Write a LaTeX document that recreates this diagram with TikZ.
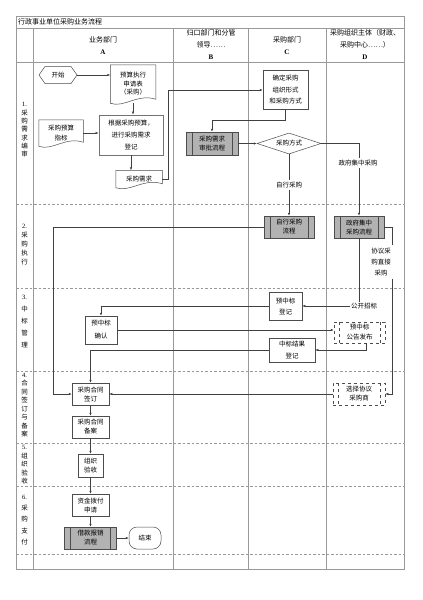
\documentclass[tikz,border=0pt]{standalone}
\usepackage{fontspec}
\setmainfont{Noto Sans CJK SC}
\newfontfamily\serifnum{Liberation Serif}
\usetikzlibrary{arrows.meta, positioning, calc, shapes.geometric, shapes.symbols}

\tikzset{
  frame/.style={draw=black!40, line width=0.7pt},
  lane/.style={draw=black!40, line width=0.6pt, dash pattern=on 2.5pt off 2pt},
  head/.style={align=center, inner sep=0pt, font=\fontsize{7}{12}\selectfont},
  phase/.style={align=center, inner sep=0pt, font=\fontsize{6.5}{#1}\selectfont},
  box/.style={draw=black!70, line width=0.5pt, rectangle, inner sep=0pt, align=center, font=\fontsize{6.5}{#1}\selectfont},
  box/.default=10,
  doc/.style={box=#1, draw=none},
  doc/.default=10,
  subproc/.style={box=#1, fill=black!30, path picture={
      \draw[black!70, line width=0.5pt] ([xshift=6pt]path picture bounding box.north west) -- ([xshift=6pt]path picture bounding box.south west)
        ([xshift=-6pt]path picture bounding box.north east) -- ([xshift=-6pt]path picture bounding box.south east);}},
  subproc/.default=9,
  extproc/.style={box=#1, dashed, path picture={
      \draw[black!70, line width=0.5pt, dashed] ([xshift=5pt]path picture bounding box.north west) -- ([xshift=5pt]path picture bounding box.south west)
        ([xshift=-5pt]path picture bounding box.north east) -- ([xshift=-5pt]path picture bounding box.south east);}},
  extproc/.default=10,
  arr/.style={draw=black!75, line width=0.5pt, -{Latex[length=3pt,width=2.4pt]}},
  lbl/.style={fill=white, inner sep=1.5pt, align=center, font=\fontsize{6.5}{#1}\selectfont},
  lbl/.default=10
}

\begin{document}
\begin{tikzpicture}[x=1pt, y=-1pt]
  \fill[white] (0,0) rectangle (423,600);
  \useasboundingbox (0,0) rectangle (423,600);
  % frame and lanes
  \draw[frame] (16,16) rectangle (404,569);
  \draw[frame] (16,28) -- (404,28);
  \draw[frame] (16,62) -- (404,62);
  \foreach \x in {33,173,248,326} \draw[frame] (\x,28) -- (\x,569);
  \foreach \y in {204,288,371,443,486,554} \draw[lane] (16,\y) -- (404,\y);

  % headers
  \node[head, anchor=west] (title) at (18,22) {行政事业单位采购业务流程};
  \node[head] (ha) at (103,46) {业务部门\\{\serifnum\bfseries A}};
  \node[head] (hb) at (211,44.5) {归口部门和分管\\领导……\\{\serifnum\bfseries B}};
  \node[head] (hc) at (287,46) {采购部门\\{\serifnum\bfseries C}};
  \node[head] (hd) at (365,44.5) {采购组织主体（财政、\\采购中心……）\\{\serifnum\bfseries D}};

  % phases
  \node[phase=8.3] (p1) at (24.5,130) {{\serifnum 1.}\\采\\购\\需\\求\\编\\审};
  \node[phase=9] (p2) at (24.5,245) {{\serifnum 2.}\\采\\购\\执\\行};
  \node[phase=12] (p3) at (24.5,321) {{\serifnum 3.}\\中\\标\\管\\理};
  \node[phase=8.5] (p4) at (24.5,405) {{\serifnum 4.}\\合\\同\\签\\订\\与\\备\\案};
  \node[phase=8.5] (p5) at (24.5,465) {{\serifnum 5.}\\组\\织\\验\\收};
  \node[phase=11.3] (p6) at (24.5,520) {{\serifnum 6.}\\采\\购\\支\\付};

  % 1. 需求编审
  \node[box, signal, signal to=west and east, signal pointer angle=110, minimum width=38pt, minimum height=17pt] (ks) at (58,75) {开始};
  \node[doc=8.5, minimum width=45pt, minimum height=38pt] (ysb) at (133,84) {预算执行\\申请表\\（采购）};
  \node[box=12, draw=black!55, line width=0.8pt, minimum width=64pt, minimum height=40pt] (gj) at (131,135) {根据采购预算，\\进行采购需求\\登记};
  \node[doc, minimum width=44pt, minimum height=26pt] (zb) at (61,133) {采购预算\\指标};
  \node[doc, minimum width=46pt, minimum height=17pt] (xq) at (139,179) {采购需求};
  \node[box=11.5, minimum width=45pt, minimum height=39pt] (qd) at (285.5,90) {确定采购\\组织形式\\和采购方式};
  \node[subproc, minimum width=52pt, minimum height=23pt] (sp) at (212,143.5) {采购需求\\审批流程};
  \node[box, diamond, aspect=3, minimum width=64pt, minimum height=21pt] (fs) at (289,143.5) {采购方式};

  % 2. 采购执行
  \node[subproc, minimum width=50pt, minimum height=22pt] (zx) at (289,227) {自行采购\\流程};
  \node[subproc, minimum width=50pt, minimum height=22pt] (zf) at (359,227) {政府集中\\采购流程};

  % 3. 中标管理
  \node[box=11, minimum width=33pt, minimum height=28pt] (yd) at (285.5,306) {预中标\\登记};
  \node[box=13, minimum width=32pt, minimum height=28pt] (yq) at (101,330) {预中标\\确认};
  \node[extproc, minimum width=51pt, minimum height=21pt] (gg) at (359.5,332.5) {预中标\\公告发布};
  \node[box=12, minimum width=46pt, minimum height=24pt] (jg) at (292,350) {中标结果\\登记};

  % 4. 合同签订与备案
  \node[box=9, minimum width=37pt, minimum height=22pt] (ht) at (90.5,394) {采购合同\\签订};
  \node[box=9, minimum width=37pt, minimum height=22pt] (ba) at (90.5,427) {采购合同\\备案};
  \node[extproc=9, minimum width=52pt, minimum height=22pt] (xs) at (359,394) {选择协议\\采购商};

  % 5. 组织验收 / 6. 采购支付
  \node[box=9, minimum width=25pt, minimum height=23pt] (ys) at (90.5,465.5) {组织\\验收};
  \node[box=9, minimum width=37pt, minimum height=22pt] (zj) at (90.5,505) {资金拨付\\申请};
  \node[subproc, minimum width=52pt, minimum height=22pt] (jk) at (90.5,538) {借款报销\\流程};
  \node[box, rounded corners=8pt, minimum width=32pt, minimum height=22pt] (js) at (145,538) {结束};

  % document outlines
  \foreach \n in {ysb,zb,xq}
    \draw[draw=black!70, line width=0.5pt] (\n.south west) -- (\n.north west) -- (\n.north east) -- ($(\n.south east)+(0,-4)$)
      .. controls ($(\n.south west)!0.6!(\n.south east)+(0,-10)$) and ($(\n.south west)!0.3!(\n.south east)+(0,5)$) .. (\n.south west);

  % connectors
  \draw[arr] (ks.east) -- (ks.east -| ysb.west);
  \draw[arr] (ysb.south) -- (ysb.south |- gj.north);
  \draw[arr] (zb.east) -- (zb.east -| gj.west);
  \draw[arr] (gj.south) -- (gj.south |- xq.north);
  \draw[arr] (xq.east) -- ++(6,0) |- (qd.west);
  \draw[arr] (qd.south) -- ++(0,10) -| (sp.north);
  \draw[arr] (sp.east) -- (fs.west);
  \draw[arr] (fs.east) -| (zf.north);
  \draw[arr] (fs.south) -- (zx.north);
  \draw[arr] (zx.west) -| ($(ht.west)+(-19,0)$) -- (ht.west);
  \draw[arr] (zf.south) |- (yd.east);
  \draw[arr] (zf.east) -- ++(8,0) |- (xs.east);
  \draw[arr] (yd.west) -| (yq.north);
  \draw[arr] (yq.east) -- (yq.east -| gg.west);
  \draw[arr] ($(gg.south)+(7,0)$) |- (jg.east);
  \draw[arr] (jg.west) -| (ht.north);
  \draw[arr] (xs.west) -- (ht.east);
  \draw[arr] (ht.south) -- (ba.north);
  \draw[arr] (ba.south) -- (ys.north);
  \draw[arr] (ys.south) -- (zj.north);
  \draw[arr] (zj.south) -- (jk.north);
  \draw[arr] (jk.east) -- (js.west);

  % line labels
  \node[lbl] (l1) at (358,163) {政府集中采购};
  \node[lbl] (l2) at (289,185) {自行采购};
  \node[lbl] (l3) at (364,306) {公开招标};
  \node[lbl=11, inner sep=3pt] (l4) at (381,262) {协议采\\购直接\\采购};
\end{tikzpicture}
\end{document}
